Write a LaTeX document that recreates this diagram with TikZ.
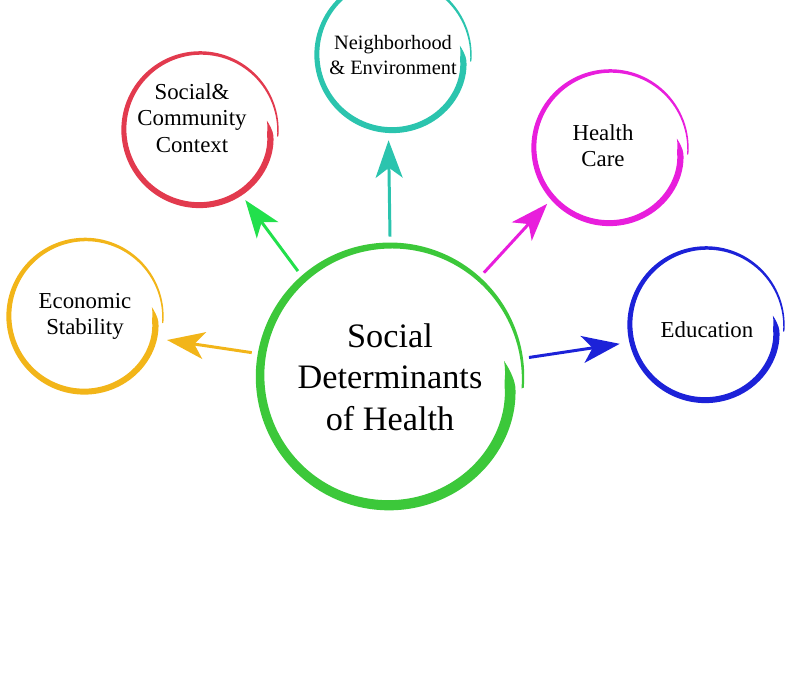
\documentclass[tikz,border=0pt]{standalone}
\usepackage{fontspec}
\setmainfont{Liberation Serif}
\usepackage{tikz}
\usetikzlibrary{arrows.meta}
\definecolor{hubgreen}{HTML}{3CC83A}
\definecolor{econyellow}{HTML}{F2B519}
\definecolor{socialred}{HTML}{E23A4E}
\definecolor{arrowgreen}{HTML}{22E04C}
\definecolor{neighteal}{HTML}{2BC4AE}
\definecolor{healthpink}{HTML}{E81EDC}
\definecolor{edublue}{HTML}{1C22D8}
% brush ring: [offset], centre node, radius, colour
\newcommand{\brushring}[4][]{%
  \fill[#4, shift={(#2)}, #1]
    plot[domain=0:1, samples=120, smooth] ({8-373*\x}:{#3*(0.99+0.05*\x-0.09*exp(-\x/0.06)) + 0.042*#3*min(1,\x/0.03)*(1-0.8*\x*\x)})
    -- plot[domain=1:0, samples=120, smooth] ({8-373*\x}:{#3*(0.99+0.05*\x-0.09*exp(-\x/0.06)) - 0.042*#3*min(1,\x/0.03)*(1-0.8*\x*\x)})
    -- cycle;}

\begin{document}
\begin{tikzpicture}[>={Stealth[length=7.5mm, width=5.4mm, inset=2mm]},
  hub/.style={circle, inner sep=0pt, minimum size=5.6cm, align=center, font=\fontsize{19.5}{23.5}\selectfont},
  theme/.style={circle, inner sep=0pt, minimum size=3.4cm, align=center, font=\fontsize{13}{15}\selectfont},
  link/.style={->, line width=1.7pt}]
  \useasboundingbox (0,0) rectangle (16,13.5);
  \clip (0,0) rectangle (16,13.5);
  \node[hub] (sdh) at (7.8,5.96) {Social\\Determinants\\of Health};
  \node[theme] (econ) at (1.7,7.17) {Economic\\Stability};
  \node[theme, minimum size=3.9cm] (social) at (3.84,11.14) {Social\&\\Community\\Context};
  \node[theme, font=\fontsize{11.6}{14.5}\selectfont] (neigh) at (7.86,12.4) {Neighborhood\\\& Environment};
  \node[theme, minimum size=3.2cm] (health) at (12.06,10.58) {Health\\Care};
  \node[theme, minimum size=3.52cm] (edu) at (14.14,6.9) {Education};
  % rings
  \brushring{sdh}{2.56}{hubgreen}
  \brushring{econ}{1.5}{econyellow}
  \brushring[xshift=0.16cm, yshift=-0.24cm]{social}{1.5}{socialred}
  \brushring{neigh}{1.5}{neighteal}
  \brushring[xshift=0.14cm, yshift=-0.04cm]{health}{1.5}{healthpink}
  \brushring[xshift=-0.02cm, yshift=0.1cm]{edu}{1.5}{edublue}
  % arrows
  \draw[link, econyellow] (sdh.170) -- (econ.-16);
  \draw[link, arrowgreen] (sdh.131) -- (social.-57);
  \draw[link, neighteal] (sdh.90) -- (neigh.-93);
  \draw[link, healthpink] (sdh.48) -- (health.-134.5);
  \draw[link, edublue] (sdh.8) -- (edu.-171);
\end{tikzpicture}
\end{document}
